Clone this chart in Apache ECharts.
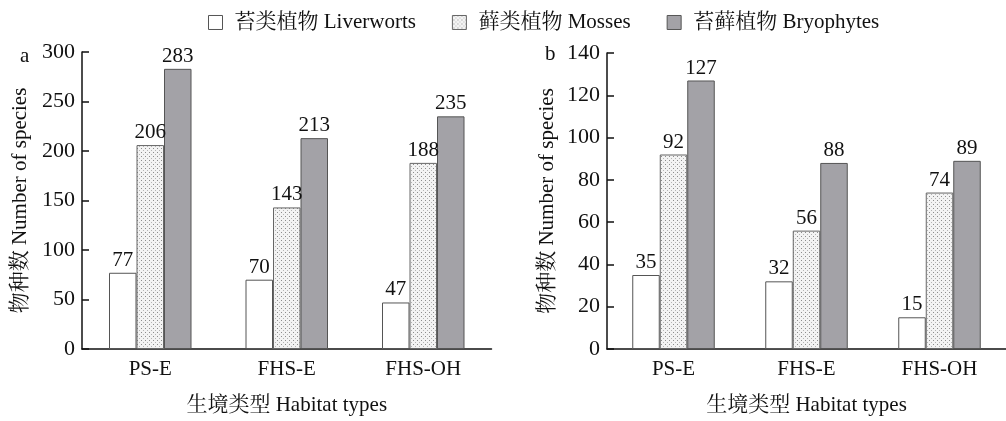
<!DOCTYPE html>
<html>
<head>
<meta charset="utf-8">
<script src="https://cdn.jsdelivr.net/npm/echarts@6/dist/echarts.min.js"></script>
<style>
  html, body { margin: 0; padding: 0; background: #fff; }
  #chart { width: 1006px; height: 421px; }
</style>
</head>
<body>
<div id="chart"></div>
<script>
// Habitat categories and series names
const habitats = ['PS-E', 'FHS-E', 'FHS-OH'];
const seriesNames = ['苔类植物 Liverworts', '藓类植物 Mosses', '苔藓植物 Bryophytes'];

// Panel a: species counts
const liverwortsA = [77, 70, 47];
const mossesA = [206, 143, 188];
const bryophytesA = [283, 213, 235];

// Panel b: species counts
const liverwortsB = [35, 32, 15];
const mossesB = [92, 56, 74];
const bryophytesB = [127, 88, 89];

// Value axis ranges
const axisA = { min: 0, max: 300, interval: 50 };
const axisB = { min: 0, max: 140, interval: 20 };

const FONT = '"Liberation Serif", "Noto Serif CJK SC", "Noto Sans CJK SC", serif';

// Stippled fill for the moss bars
function dotPattern() {
  const c = document.createElement('canvas');
  c.width = 4; c.height = 4;
  const g = c.getContext('2d');
  g.fillStyle = '#f3f3f3';
  g.fillRect(0, 0, 4, 4);
  g.fillStyle = '#8c8c8c';
  g.fillRect(1, 0, 1, 1);
  g.fillStyle = '#b4b4b4';
  g.fillRect(3, 2, 1, 1);
  return { image: c, repeat: 'repeat' };
}

const styles = [
  { color: '#ffffff', borderColor: '#555', borderWidth: 1 },
  { color: dotPattern(), borderColor: '#666', borderWidth: 1 },
  { color: '#a3a2a7', borderColor: '#555', borderWidth: 1 }
];

const chart = echarts.init(document.getElementById('chart'), null, { renderer: 'canvas' });

function valueAxis(range, gridIndex, nameGap) {
  return {
    type: 'value', gridIndex,
    min: range.min, max: range.max, interval: range.interval,
    name: '物种数 Number of species', nameLocation: 'middle', nameGap,
    nameTextStyle: { fontFamily: FONT, fontSize: 21, color: '#111' },
    axisLine: { show: true, lineStyle: { color: '#111', width: 1.5 } },
    axisTick: { show: true, inside: true, length: 7, lineStyle: { color: '#111', width: 1.5 } },
    axisLabel: { fontFamily: FONT, fontSize: 22, color: '#111', margin: 7 },
    splitLine: { show: false }
  };
}

function categoryAxis(gridIndex) {
  return {
    type: 'category', gridIndex, data: habitats,
    name: '生境类型 Habitat types', nameLocation: 'middle', nameGap: 46,
    nameTextStyle: { fontFamily: FONT, fontSize: 21, color: '#111' },
    axisLine: { show: true, lineStyle: { color: '#111', width: 1.5 } },
    axisTick: { show: false },
    axisLabel: { fontFamily: FONT, fontSize: 21, color: '#111', margin: 10 }
  };
}

function barSeries(name, data, idx, axisIdx) {
  return {
    type: 'bar', name, data,
    xAxisIndex: axisIdx, yAxisIndex: axisIdx,
    barWidth: 27.5, barGap: '0%',
    itemStyle: styles[idx],
    label: { show: true, position: 'top', distance: 2, fontFamily: FONT, fontSize: 21, color: '#111' },
    emphasis: { disabled: true }
  };
}

chart.setOption({
  animation: false,
  textStyle: { fontFamily: FONT },
  title: [
    { text: 'a', left: 15, top: 41, textStyle: { fontFamily: FONT, fontSize: 21, fontWeight: 'normal', color: '#111' } },
    { text: 'b', left: 540, top: 39, textStyle: { fontFamily: FONT, fontSize: 21, fontWeight: 'normal', color: '#111' } }
  ],
  legend: {
    top: 7, left: 203,
    itemWidth: 14, itemHeight: 14, itemGap: 36,
    icon: 'rect',
    textStyle: { fontFamily: FONT, fontSize: 21, color: '#111', padding: [0, 0, 0, 7] },
    data: seriesNames.map((n, i) => ({ name: n, itemStyle: styles[i] }))
  },
  grid: [
    { left: 82, top: 52, width: 409.5, height: 298 },
    { left: 607, top: 53, width: 408, height: 296 }
  ],
  xAxis: [categoryAxis(0), categoryAxis(1)],
  yAxis: [valueAxis(axisA, 0, 51), valueAxis(axisB, 1, 49)],
  series: [
    barSeries(seriesNames[0], liverwortsA, 0, 0),
    barSeries(seriesNames[1], mossesA, 1, 0),
    barSeries(seriesNames[2], bryophytesA, 2, 0),
    barSeries(seriesNames[0], liverwortsB, 0, 1),
    barSeries(seriesNames[1], mossesB, 1, 1),
    barSeries(seriesNames[2], bryophytesB, 2, 1)
  ]
});
</script>
</body>
</html>
